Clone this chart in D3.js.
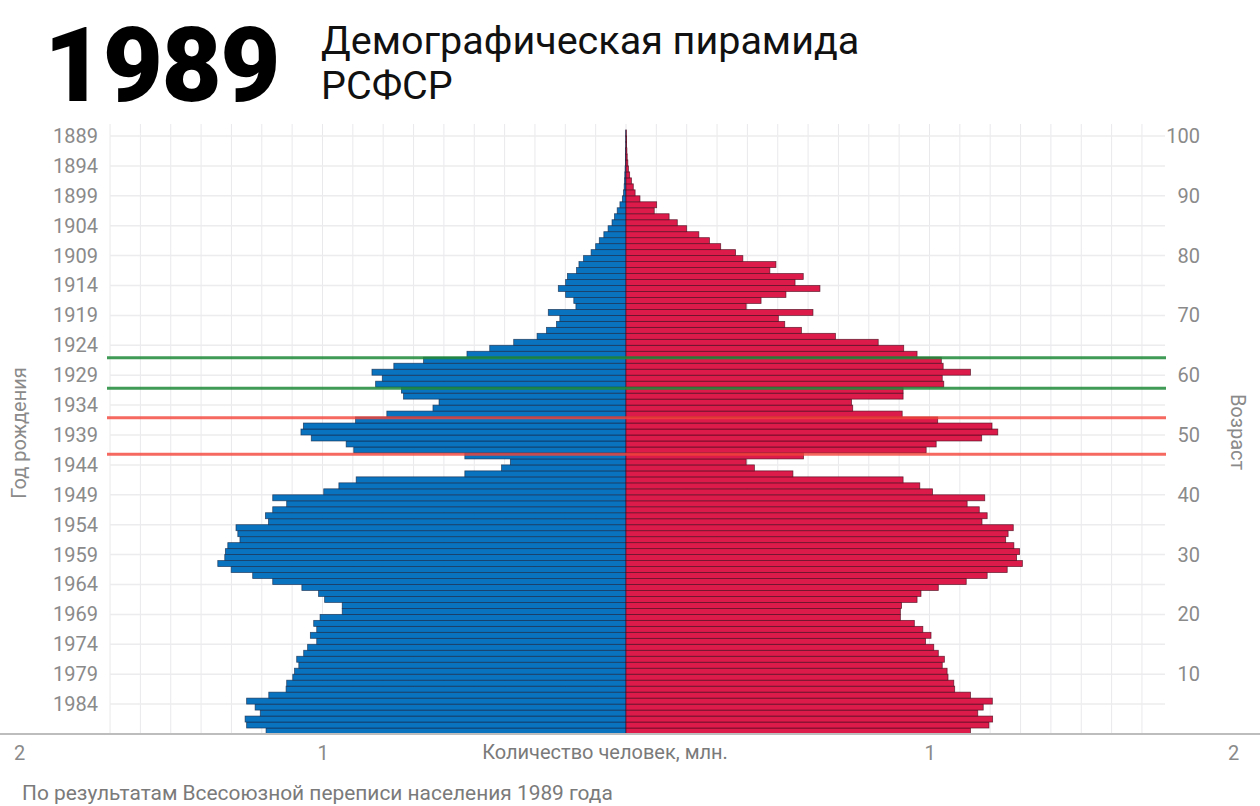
<!DOCTYPE html>
<html>
<head>
<meta charset="utf-8">
<script src="https://cdn.jsdelivr.net/npm/d3@7"></script>
<style>
  body { margin: 0; background: #fff; }
  svg { display: block; font-family: Roboto, "Noto Sans", sans-serif; }
</style>
</head>
<body>
<div id="chart"></div>
<script>
// age 0..100 (index = age), millions of people, census of January 1989
var ages = d3.range(0, 101);

var male = [
  1.186, 1.250, 1.255, 1.205, 1.222, 1.250, 1.177, 1.120, 1.118, 1.098,
  1.092, 1.078, 1.085, 1.062, 1.049, 1.019, 1.040, 1.019, 1.029, 1.008,
  0.935, 0.935, 0.993, 1.013, 1.068, 1.164, 1.230, 1.301, 1.345, 1.322,
  1.320, 1.312, 1.272, 1.279, 1.285, 1.178, 1.188, 1.164, 1.118, 1.164,
  0.996, 0.946, 0.889, 0.531, 0.410, 0.381, 0.531, 0.897, 0.922, 1.037,
  1.071, 1.063, 0.891, 0.788, 0.636, 0.616, 0.733, 0.740, 0.825, 0.803,
  0.837, 0.765, 0.667, 0.524, 0.449, 0.370, 0.293, 0.262, 0.229, 0.218,
  0.256, 0.165, 0.172, 0.199, 0.223, 0.199, 0.193, 0.163, 0.155, 0.140,
  0.115, 0.100, 0.088, 0.073, 0.059, 0.046, 0.038, 0.029, 0.020, 0.012,
  0.008, 0.006, 0.005, 0.004, 0.003, 0.002, 0.002, 0.0015, 0.001, 0.001,
  0.001
];

var female = [
  1.135, 1.196, 1.208, 1.159, 1.177, 1.207, 1.135, 1.083, 1.080, 1.061,
  1.058, 1.042, 1.049, 1.029, 1.014, 0.987, 1.005, 0.978, 0.950, 0.904,
  0.904, 0.908, 0.959, 0.972, 1.029, 1.121, 1.190, 1.256, 1.306, 1.287,
  1.297, 1.278, 1.251, 1.259, 1.276, 1.173, 1.190, 1.164, 1.124, 1.182,
  1.010, 0.968, 0.913, 0.550, 0.423, 0.396, 0.585, 0.989, 1.022, 1.172,
  1.225, 1.206, 1.027, 0.910, 0.747, 0.743, 0.913, 0.913, 1.047, 1.042,
  1.135, 1.045, 1.039, 0.959, 0.915, 0.831, 0.690, 0.578, 0.523, 0.502,
  0.616, 0.396, 0.445, 0.527, 0.639, 0.557, 0.584, 0.474, 0.494, 0.385,
  0.361, 0.312, 0.275, 0.240, 0.200, 0.169, 0.142, 0.093, 0.101, 0.046,
  0.030, 0.024, 0.018, 0.012, 0.008, 0.006, 0.004, 0.003, 0.002, 0.002,
  0.001
];

var censusYear = 1989;
var yearTicks = d3.range(100, 4, -5);        // ages where birth years are labelled
var ageTicks = d3.range(10, 101, 10);
var xTicks = [-2, -1, 1, 2];
var gridValues = d3.range(-17, 18).map(d => d / 10);

// marker lines (age boundaries)
var greenLines = [62.9, 57.8];
var redLines = [52.9, 46.8];

var width = 1260, height = 806;

var svg = d3.select("#chart")
  .append("svg")
  .attr("width", width)
  .attr("height", height);

var xScale = d3.scaleLinear()
  .domain([-2, 2])
  .range([19, 1233]);

var yScale = d3.scaleLinear()
  .domain([0, 101])
  .range([734, 734 - 101 * 5.98]);

// grid
var grid = svg.append("g");

grid.selectAll(".vgrid")
  .data(gridValues)
  .enter()
  .append("line")
  .attr("x1", d => xScale(d))
  .attr("x2", d => xScale(d))
  .attr("y1", 124)
  .attr("y2", yScale(0))
  .attr("stroke", "#e9e9ec")
  .attr("stroke-width", 1);

grid.selectAll(".hgrid")
  .data(yearTicks)
  .enter()
  .append("line")
  .attr("x1", 110)
  .attr("x2", 1165)
  .attr("y1", d => yScale(d))
  .attr("y2", d => yScale(d))
  .attr("stroke", "#ececee")
  .attr("stroke-width", 1.5);

// bars
var bars = svg.append("g");

bars.selectAll(".male")
  .data(ages)
  .enter()
  .append("rect")
  .attr("x", a => xScale(-male[a]))
  .attr("y", a => yScale(a + 1))
  .attr("width", a => xScale(0) - xScale(-male[a]))
  .attr("height", a => yScale(a) - yScale(a + 1))
  .attr("fill", "#0a73bf")
  .attr("stroke", "#14294a")
  .attr("stroke-opacity", 0.75)
  .attr("stroke-width", 0.8);

bars.selectAll(".female")
  .data(ages)
  .enter()
  .append("rect")
  .attr("x", xScale(0))
  .attr("y", a => yScale(a + 1))
  .attr("width", a => xScale(female[a]) - xScale(0))
  .attr("height", a => yScale(a) - yScale(a + 1))
  .attr("fill", "#dc1b4b")
  .attr("stroke", "#4a0a1c")
  .attr("stroke-opacity", 0.75)
  .attr("stroke-width", 0.8);

// marker lines
svg.selectAll(".green-line")
  .data(greenLines)
  .enter()
  .append("line")
  .attr("x1", 107)
  .attr("x2", 1166)
  .attr("y1", d => yScale(d))
  .attr("y2", d => yScale(d))
  .attr("stroke", "#1f8a3a")
  .attr("stroke-opacity", 0.85)
  .attr("stroke-width", 3);

svg.selectAll(".red-line")
  .data(redLines)
  .enter()
  .append("line")
  .attr("x1", 107)
  .attr("x2", 1166)
  .attr("y1", d => yScale(d))
  .attr("y2", d => yScale(d))
  .attr("stroke", "#f2443a")
  .attr("stroke-opacity", 0.8)
  .attr("stroke-width", 3);

// bottom axis line
svg.append("line")
  .attr("x1", 0)
  .attr("x2", width)
  .attr("y1", yScale(0))
  .attr("y2", yScale(0))
  .attr("stroke", "#bdbdbd")
  .attr("stroke-width", 2);

// left axis: birth years
var leftAxis = d3.axisLeft(yScale)
  .tickValues(yearTicks)
  .tickSize(0)
  .tickPadding(0)
  .tickFormat(a => censusYear - a);

svg.append("g")
  .attr("transform", "translate(98,0)")
  .call(leftAxis)
  .call(g => g.select(".domain").remove())
  .selectAll("text")
  .attr("fill", "#8a8a8a")
  .style("font-size", "20px")
  .style("font-family", "Roboto, sans-serif");

// right axis: age
var rightAxis = d3.axisLeft(yScale)
  .tickValues(ageTicks)
  .tickSize(0)
  .tickPadding(0);

svg.append("g")
  .attr("transform", "translate(1200,0)")
  .call(rightAxis)
  .call(g => g.select(".domain").remove())
  .selectAll("text")
  .attr("fill", "#8a8a8a")
  .style("font-size", "20px")
  .style("font-family", "Roboto, sans-serif");

// bottom axis: millions
var bottomAxis = d3.axisBottom(xScale)
  .tickValues(xTicks)
  .tickSize(0)
  .tickPadding(12)
  .tickFormat(d => Math.abs(d));

svg.append("g")
  .attr("transform", `translate(0, ${yScale(0)})`)
  .call(bottomAxis)
  .call(g => g.select(".domain").remove())
  .selectAll("text")
  .attr("fill", "#8a8a8a")
  .style("font-size", "20px")
  .style("font-family", "Roboto, sans-serif");

// axis titles
svg.append("text")
  .attr("x", 605)
  .attr("y", 759)
  .attr("text-anchor", "middle")
  .attr("fill", "#7a7a7a")
  .style("font-size", "20px")
  .text("Количество человек, млн.");

svg.append("text")
  .attr("transform", "translate(26, 433) rotate(-90)")
  .attr("text-anchor", "middle")
  .attr("fill", "#8a8a8a")
  .style("font-size", "20px")
  .text("Год рождения");

svg.append("text")
  .attr("transform", "translate(1231, 432) rotate(90)")
  .attr("text-anchor", "middle")
  .attr("fill", "#8a8a8a")
  .style("font-size", "20px")
  .text("Возраст");

// titles
svg.append("text")
  .attr("x", 44)
  .attr("y", 101)
  .attr("fill", "#000")
  .style("font-size", "104px")
  .style("font-weight", "900")
  .style("letter-spacing", "-1.5px")
  .text("1989");

svg.append("text")
  .attr("x", 321)
  .attr("y", 54)
  .attr("fill", "#111")
  .style("font-size", "39.5px")
  .text("Демографическая пирамида");

svg.append("text")
  .attr("x", 321)
  .attr("y", 99)
  .attr("fill", "#111")
  .style("font-size", "39.5px")
  .text("РСФСР");

// footnote
svg.append("text")
  .attr("x", 22)
  .attr("y", 800)
  .attr("fill", "#7a7a7a")
  .style("font-size", "20.9px")
  .text("По результатам Всесоюзной переписи населения 1989 года");
</script>
</body>
</html>
